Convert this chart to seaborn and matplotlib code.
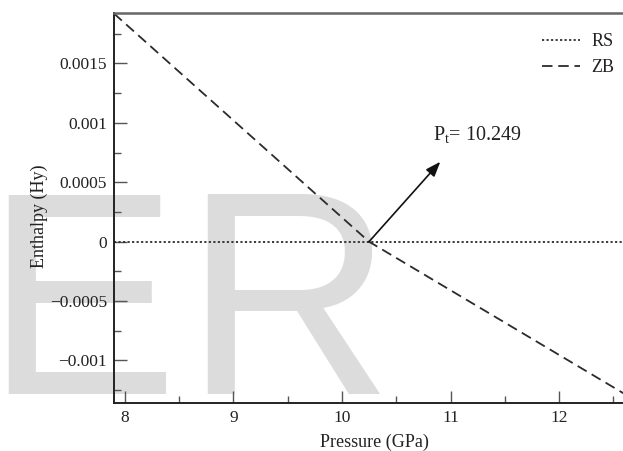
import matplotlib
matplotlib.use("Agg")
import matplotlib.pyplot as plt
import seaborn as sns
import pandas as pd

# ---- data ----
rs_pressure = [7.9, 12.6]
rs_enthalpy = [0.0, 0.0]
zb_pressure = [7.9, 10.249, 12.6]
zb_enthalpy = [0.00192, 0.0, -0.00128]
transition_pressure = 10.249
arrow_tip = (10.906, 0.000673)
x_ticks = [8, 9, 10, 11, 12]
y_ticks = [-0.001, -0.0005, 0, 0.0005, 0.001, 0.0015]
y_tick_labels = ["\u22120.001", "\u22120.0005", "0", "0.0005", "0.001", "0.0015"]

df = pd.DataFrame({
    "Pressure": rs_pressure + zb_pressure,
    "Enthalpy": rs_enthalpy + zb_enthalpy,
    "Phase": ["RS"] * len(rs_pressure) + ["ZB"] * len(zb_pressure),
})

sns.set_theme(style="white")
plt.rcParams["font.family"] = ["Liberation Serif", "DejaVu Serif"]
plt.rcParams["mathtext.fontset"] = "custom"
plt.rcParams["mathtext.rm"] = "Liberation Serif"

fig = plt.figure(figsize=(6.23, 4.51), dpi=100)
ax = fig.add_axes([0.183, 0.1064, 0.819, 0.8648])

line_col = "#2b2b2b"
sns.lineplot(data=df, x="Pressure", y="Enthalpy", hue="Phase", style="Phase",
             palette={"RS": line_col, "ZB": line_col},
             dashes={"RS": (1.2, 1.3), "ZB": (5.8, 3.2)},
             linewidth=1.3, ax=ax, legend=True)

# watermark (two letters placed separately)
wm_kw = dict(transform=fig.transFigure, fontsize=209, family="Liberation Sans",
             color="#dcdcdc", ha="left", va="baseline", zorder=0.5, clip_on=False)
ax.text(-0.025, 0.126, "E", **wm_kw)
ax.text(0.294, 0.126, "R", **wm_kw)

ax.set_xlim(7.9, 12.6)
ax.set_ylim(-0.001358, 0.001925)
ax.set_xticks(x_ticks)
ax.set_xticklabels([str(t) for t in x_ticks])
ax.set_xticks([8.5, 9.5, 10.5, 11.5, 12.5], minor=True)
ax.set_yticks(y_ticks)
ax.set_yticklabels(y_tick_labels)
ax.set_yticks([-0.00125, -0.00075, -0.00025, 0.00025, 0.00075, 0.00125, 0.00175], minor=True)

ax.tick_params(axis="both", which="major", direction="in", length=9, width=1,
               color="#555555", labelsize=12.5, labelcolor="#222222", pad=5,
               top=False, right=False, left=True, bottom=True)
ax.tick_params(axis="both", which="minor", direction="in", length=5, width=1,
               color="#555555", top=False, right=False, left=True, bottom=True)

for side in ["left", "bottom"]:
    ax.spines[side].set_color("#222222")
    ax.spines[side].set_linewidth(1.4)
ax.spines["top"].set_color("#666666")
ax.spines["top"].set_linewidth(1.8)
ax.spines["right"].set_visible(False)

ax.set_xlabel("Pressure (GPa)", fontsize=13, color="#222222")
ax.set_ylabel("Enthalpy (Hy)", fontsize=13, color="#222222")
ax.xaxis.set_label_coords(0.51, -0.079)
ax.yaxis.set_label_coords(-0.13, 0.479)

ax.annotate("", xy=arrow_tip, xytext=(transition_pressure, 0.0),
            arrowprops=dict(arrowstyle="-|>,head_length=0.75,head_width=0.28",
                            color="#111111", lw=1.2, shrinkA=0, shrinkB=0),
            zorder=4)
ax.text(10.84, 0.000848, r"P$_{\rm t}$= 10.249", fontsize=14.5, color="#222222",
        ha="left", va="baseline")

leg = ax.legend(loc="upper right", bbox_to_anchor=(0.998, 0.972), frameon=False,
                fontsize=13, handlelength=2.1, handletextpad=0.6,
                labelspacing=0.5, borderaxespad=0.1)
for txt in leg.get_texts():
    txt.set_color("#222222")

fig.savefig("out.png", dpi=100)
